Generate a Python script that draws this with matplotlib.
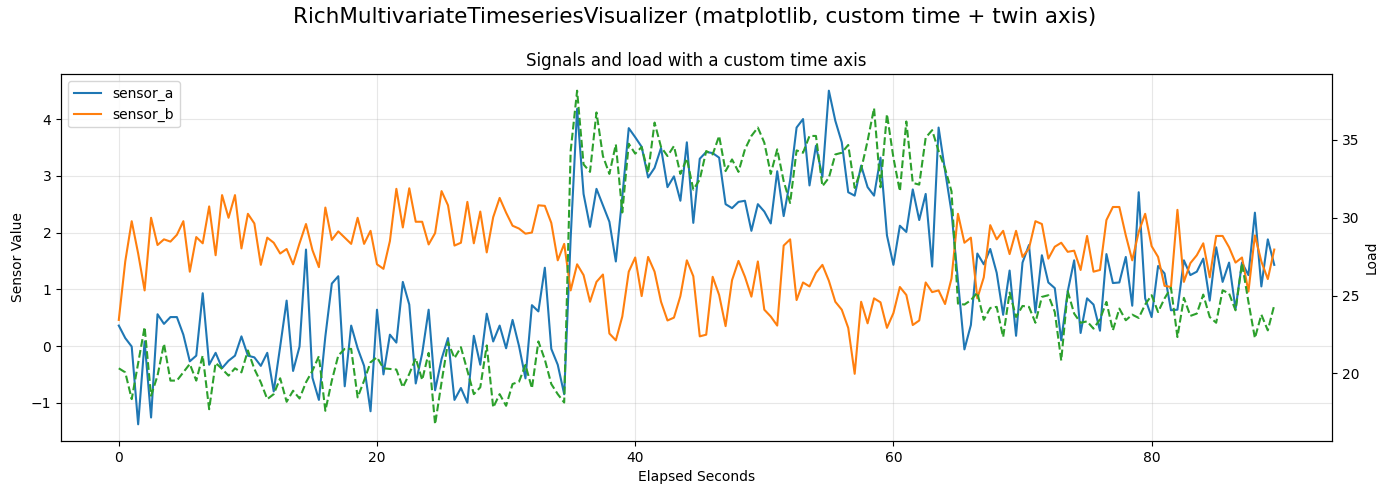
import numpy as np
import matplotlib
matplotlib.use("Agg")
import matplotlib.pyplot as plt

# elapsed time in seconds, sampled every 0.5 s
elapsed = np.arange(180) * 0.5

sensor_a = [
    0.36, 0.14, -0.01, -1.38, 0.08, -1.26, 0.56, 0.39, 0.51, 0.51,
    0.20, -0.27, -0.17, 0.93, -0.33, -0.12, -0.39, -0.26, -0.17, 0.17,
    -0.17, -0.20, -0.35, -0.12, -0.80, -0.01, 0.80, -0.44, -0.01, 1.70,
    -0.56, -0.95, 0.17, 1.10, 1.23, -0.71, 0.36, -0.04, -0.35, -1.15,
    0.64, -0.50, 0.20, 0.06, 1.13, 0.73, -0.66, -0.13, 0.64, -0.78,
    -0.23, 0.14, -0.95, -0.74, -1.00, 0.18, -0.33, 0.57, 0.08, 0.36,
    -0.04, 0.46, 0.00, -0.57, 0.72, 0.61, 1.38, -0.05, -0.33, -0.85,
    1.90, 4.18, 2.68, 2.10, 2.77, 2.48, 2.19, 1.49, 2.63, 3.84,
    3.68, 3.51, 2.97, 3.14, 3.49, 2.80, 2.99, 2.56, 3.59, 2.17,
    3.30, 3.42, 3.40, 3.32, 2.50, 2.43, 2.54, 2.56, 2.03, 2.50,
    2.37, 2.16, 3.08, 2.29, 2.92, 3.85, 4.00, 2.83, 3.53, 2.98,
    4.50, 3.97, 3.59, 2.71, 2.65, 3.18, 2.80, 2.65, 3.32, 1.95,
    1.43, 2.12, 2.01, 2.76, 2.22, 2.68, 1.40, 3.85, 3.09, 2.36,
    1.16, -0.06, 0.37, 1.63, 1.44, 1.71, 1.29, 0.55, 1.33, 0.18,
    1.47, 1.78, 0.59, 1.60, 1.12, 1.02, 0.10, 0.96, 1.51, 0.23,
    0.84, 0.73, 0.27, 1.62, 1.11, 1.12, 1.57, 0.71, 2.71, 0.84,
    0.51, 1.41, 1.28, 0.63, 0.64, 1.51, 1.25, 1.31, 1.54, 0.80,
    1.74, 1.13, 1.47, 0.65, 1.47, 1.25, 2.35, 1.05, 1.88, 1.43,
]

sensor_b = [
    0.46, 1.49, 2.20, 1.63, 0.98, 2.26, 1.78, 1.88, 1.84, 1.96,
    2.20, 1.31, 1.92, 1.81, 2.46, 1.60, 2.66, 2.26, 2.66, 1.72,
    2.33, 2.16, 1.43, 1.91, 1.82, 1.63, 1.71, 1.44, 1.81, 2.15,
    1.69, 1.39, 2.44, 1.87, 2.02, 1.91, 1.80, 2.26, 1.80, 2.03,
    1.44, 1.36, 1.85, 2.77, 2.09, 2.78, 2.19, 2.19, 1.79, 1.99,
    2.73, 2.48, 1.77, 1.82, 2.54, 1.81, 2.37, 1.65, 2.27, 2.61,
    2.35, 2.12, 2.07, 1.98, 2.00, 2.48, 2.47, 2.17, 1.51, 1.80,
    0.98, 1.44, 1.25, 0.78, 1.13, 1.26, 0.22, 0.10, 0.52, 1.31,
    1.56, 0.88, 1.57, 1.31, 0.78, 0.45, 0.50, 0.88, 1.51, 1.23,
    0.17, 0.20, 1.22, 0.90, 0.35, 1.16, 1.50, 1.22, 0.87, 1.49,
    0.64, 0.52, 0.36, 1.77, 1.88, 0.81, 1.12, 1.05, 1.29, 1.43,
    1.15, 0.78, 0.64, 0.32, -0.49, 0.78, 0.40, 0.84, 0.77, 0.32,
    0.58, 1.04, 0.90, 0.37, 0.45, 1.12, 0.95, 0.98, 0.74, 1.19,
    2.33, 1.82, 1.91, 0.84, 1.21, 2.13, 1.88, 2.03, 1.62, 2.03,
    1.57, 1.72, 2.20, 2.15, 1.54, 1.75, 1.82, 1.66, 1.68, 1.34,
    1.94, 1.31, 1.34, 2.22, 2.45, 2.45, 1.95, 1.51, 2.01, 2.33,
    1.76, 1.57, 1.06, 1.04, 2.40, 1.13, 1.46, 1.60, 1.81, 1.21,
    1.94, 1.94, 1.74, 1.47, 1.56, 0.96, 1.95, 1.49, 1.18, 1.70,
]

load = [
    20.32, 20.06, 18.34, 20.67, 22.97, 18.56, 19.85, 21.90, 19.53, 19.53,
    20.06, 20.60, 19.53, 21.14, 17.69, 20.67, 20.28, 19.85, 20.32, 20.06,
    21.47, 20.28, 19.42, 18.34, 18.66, 19.68, 18.17, 18.88, 18.38, 19.42,
    20.17, 21.10, 17.59, 19.53, 21.14, 21.57, 21.57, 18.45, 19.53, 20.71,
    21.03, 20.32, 20.28, 20.24, 19.10, 19.96, 20.97, 19.57, 21.31, 16.72,
    19.42, 22.00, 20.97, 21.68, 20.17, 18.66, 19.10, 21.79, 17.80, 18.66,
    17.91, 19.31, 19.46, 20.54, 19.03, 22.05, 20.88, 19.31, 18.66, 18.12,
    34.29, 38.17, 33.43, 32.95, 36.77, 33.97, 32.82, 34.72, 30.34, 34.76,
    34.12, 34.55, 32.89, 36.12, 34.55, 33.97, 34.61, 32.82, 33.81, 31.81,
    32.46, 34.29, 34.07, 35.26, 33.00, 33.75, 32.95, 34.40, 35.26, 35.80,
    34.83, 32.82, 34.40, 32.35, 30.95, 34.33, 34.18, 35.26, 35.26, 32.03,
    32.57, 34.07, 34.18, 34.68, 31.92, 33.10, 34.94, 37.05, 31.96, 36.66,
    33.86, 31.70, 36.19, 32.24, 32.13, 35.15, 35.63, 34.29, 33.17, 31.70,
    24.48, 24.42, 24.70, 25.19, 23.44, 24.20, 24.27, 22.33, 25.19, 23.62,
    24.33, 24.27, 23.25, 24.91, 25.02, 23.94, 20.82, 25.28, 23.84, 23.25,
    23.34, 22.87, 23.47, 24.59, 22.76, 24.16, 23.41, 23.77, 23.56, 24.42,
    25.02, 23.94, 24.81, 25.50, 22.33, 24.85, 23.69, 23.84, 25.06, 23.62,
    23.25, 25.34, 25.13, 24.05, 27.07, 24.59, 22.26, 23.77, 22.76, 24.38,
]

fig, ax = plt.subplots(figsize=(13.9, 4.95), dpi=100)
fig.suptitle("RichMultivariateTimeseriesVisualizer (matplotlib, custom time + twin axis)",
             fontsize=15.5, y=0.985)

ax.plot(elapsed, sensor_a, color="tab:blue", linewidth=1.5, label="sensor_a")
ax.plot(elapsed, sensor_b, color="tab:orange", linewidth=1.5, label="sensor_b")
ax.set_xlabel("Elapsed Seconds")
ax.set_ylabel("Sensor Value")
ax.set_title("Signals and load with a custom time axis", fontsize=12)
ax.grid(True, alpha=0.3)
ax.legend(loc="upper left")

ax2 = ax.twinx()
ax2.plot(elapsed, load, color="tab:green", linestyle="--", linewidth=1.5, label="load")
ax2.set_ylabel("Load")

fig.subplots_adjust(left=0.0439, right=0.9583, top=0.8505, bottom=0.1091)
fig.savefig("out.png", dpi=100)
